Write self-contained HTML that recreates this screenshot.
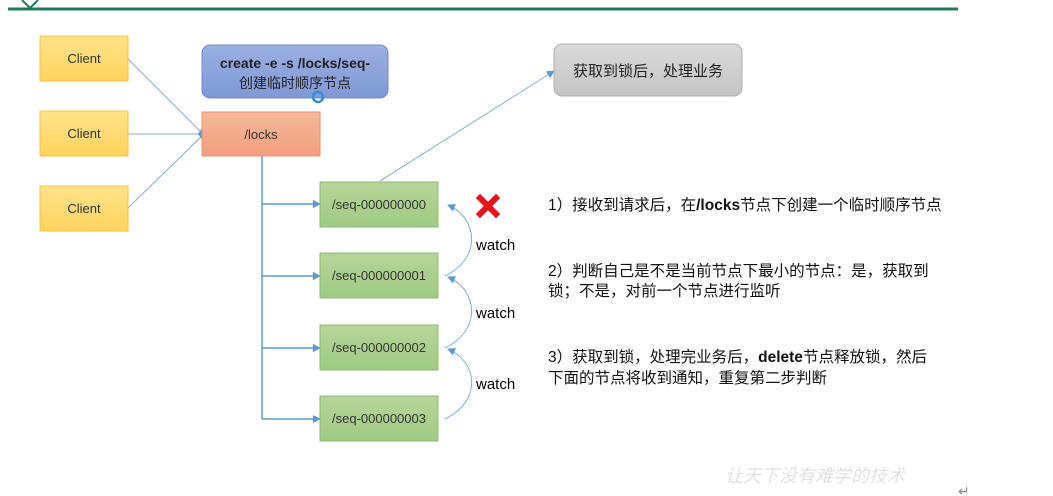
<!DOCTYPE html>
<html><head><meta charset="utf-8"><style>
html,body{margin:0;padding:0;background:#fff;width:1053px;height:496px;overflow:hidden}
svg text{font-family:"Liberation Sans","Noto Sans CJK SC",sans-serif}
</style></head><body>
<svg width="1053" height="496" viewBox="0 0 1053 496" xmlns="http://www.w3.org/2000/svg">
<defs>
<linearGradient id="gy" x1="0" y1="0" x2="0" y2="1"><stop offset="0" stop-color="#ffe38a"/><stop offset="1" stop-color="#ffd35e"/></linearGradient>
<linearGradient id="gg" x1="0" y1="0" x2="0" y2="1"><stop offset="0" stop-color="#b5d69a"/><stop offset="1" stop-color="#9fcb83"/></linearGradient>
<linearGradient id="go" x1="0" y1="0" x2="0" y2="1"><stop offset="0" stop-color="#f6b79a"/><stop offset="1" stop-color="#f2a07e"/></linearGradient>
<linearGradient id="gb" x1="0" y1="0" x2="0" y2="1"><stop offset="0" stop-color="#9bb0e2"/><stop offset="1" stop-color="#7f98d6"/></linearGradient>
<linearGradient id="gr" x1="0" y1="0" x2="0" y2="1"><stop offset="0" stop-color="#dadada"/><stop offset="1" stop-color="#c4c4c4"/></linearGradient>
<marker id="ar" markerWidth="8" markerHeight="8" refX="7" refY="4" orient="auto" markerUnits="userSpaceOnUse"><path d="M0,0 L8,4 L0,8 z" fill="#5b9bd5"/></marker>
</defs>
<line x1="8" y1="9" x2="958" y2="9" stroke="#1d7a5f" stroke-width="3"/>
<path d="M22,0 L30,8 L38,0" fill="none" stroke="#1d7a5f" stroke-width="2"/>
<g stroke="#7fb0dc" stroke-width="1" fill="none">
<line x1="128" y1="59" x2="202" y2="133"/>
<line x1="128" y1="134" x2="202" y2="134"/>
<line x1="128" y1="208" x2="202" y2="136"/>
<line x1="380" y1="181" x2="554" y2="71" marker-end="url(#ar)"/>
</g>
<path d="M202,128 L198,134 L202,140 z" fill="#5b9bd5"/>
<g stroke="#5b9bd5" stroke-width="1.5" fill="none">
<line x1="262" y1="156" x2="262" y2="419"/>
<line x1="262" y1="204" x2="320" y2="204" marker-end="url(#ar)"/>
<line x1="262" y1="276" x2="320" y2="276" marker-end="url(#ar)"/>
<line x1="262" y1="348" x2="320" y2="348" marker-end="url(#ar)"/>
<line x1="262" y1="419" x2="320" y2="419" marker-end="url(#ar)"/>
</g>
<g stroke="#7fb0dc" stroke-width="1" fill="none">
<path d="M445,276 C482,258 478,218 448,205" marker-end="url(#ar)"/>
<path d="M445,348 C482,330 478,290 448,277" marker-end="url(#ar)"/>
<path d="M445,419 C482,401 478,362 448,349" marker-end="url(#ar)"/>
</g>
<g font-size="13" fill="#333" text-anchor="middle">
<rect x="40" y="36" width="88" height="45" fill="url(#gy)" stroke="#f5c342"/>
<text x="84" y="63">Client</text>
<rect x="40" y="111" width="88" height="45" fill="url(#gy)" stroke="#f5c342"/>
<text x="84" y="138">Client</text>
<rect x="40" y="186" width="88" height="45" fill="url(#gy)" stroke="#f5c342"/>
<text x="84" y="213">Client</text>
<rect x="202" y="112" width="118" height="44" fill="url(#go)" stroke="#e8956f"/>
<text x="261" y="139">/locks</text>
<rect x="320" y="182" width="118" height="45" fill="url(#gg)" stroke="#8cbb6e"/>
<text x="379" y="209">/seq-000000000</text>
<rect x="320" y="253" width="118" height="45" fill="url(#gg)" stroke="#8cbb6e"/>
<text x="379" y="280">/seq-000000001</text>
<rect x="320" y="325" width="118" height="45" fill="url(#gg)" stroke="#8cbb6e"/>
<text x="379" y="352">/seq-000000002</text>
<rect x="320" y="396" width="118" height="45" fill="url(#gg)" stroke="#8cbb6e"/>
<text x="379" y="423">/seq-000000003</text>
</g>
<rect x="202" y="45" width="186" height="53" rx="8" fill="url(#gb)" stroke="#6f8bd0"/>
<text x="295" y="68" font-size="14" font-weight="bold" fill="#222" text-anchor="middle">create -e -s /locks/seq-</text>
<text x="295" y="88" font-size="14" fill="#222" text-anchor="middle">创建临时顺序节点</text>
<circle cx="318" cy="97" r="5" fill="none" stroke="#2f8fe0" stroke-width="2.5"/>
<rect x="554" y="44" width="188" height="52" rx="8" fill="url(#gr)" stroke="#b0b0b0"/>
<text x="648" y="76" font-size="15" fill="#222" text-anchor="middle">获取到锁后，处理业务</text>
<g stroke="#e8141b" stroke-width="6" stroke-linecap="square">
<line x1="480" y1="198" x2="496" y2="214"/>
<line x1="496" y1="198" x2="480" y2="214"/>
</g>
<g font-size="15" fill="#000">
<text x="476" y="250">watch</text>
<text x="476" y="318">watch</text>
<text x="476" y="389">watch</text>
</g>
<g font-size="15.5" fill="#111">
<text x="548" y="210">1）接收到请求后，在<tspan font-weight="bold">/locks</tspan>节点下创建一个临时顺序节点</text>
<text x="548" y="276">2）判断自己是不是当前节点下最小的节点：是，获取到</text>
<text x="548" y="296">锁；不是，对前一个节点进行监听</text>
<text x="548" y="362">3）获取到锁，处理完业务后，<tspan font-weight="bold">delete</tspan>节点释放锁，然后</text>
<text x="548" y="383">下面的节点将收到通知，重复第二步判断</text>
</g>
<text x="725" y="482" font-size="18" fill="#e2e2e2" font-style="italic" font-family="Liberation Serif, Noto Serif CJK SC, serif">让天下没有难学的技术</text>
<text x="958" y="496" font-size="14" fill="#888">↵</text>
</svg>
</body></html>
